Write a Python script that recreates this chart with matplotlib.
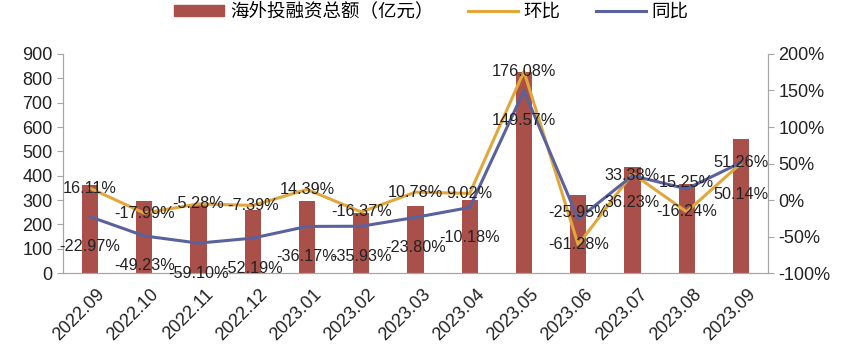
import numpy as np
import matplotlib.pyplot as plt
import matplotlib.transforms as mtransforms
from matplotlib.patches import Patch
from matplotlib.lines import Line2D

plt.rcParams['font.family'] = ['Liberation Sans', 'Noto Sans CJK SC', 'DejaVu Sans']
plt.rcParams['axes.unicode_minus'] = False

# 数据
months = ['2022.09', '2022.10', '2022.11', '2022.12', '2023.01', '2023.02', '2023.03',
          '2023.04', '2023.05', '2023.06', '2023.07', '2023.08', '2023.09']
total = [361, 296, 280, 259, 297, 248, 275, 300, 828, 321, 437, 366, 549]
mom = [16.11, -17.99, -5.28, -7.39, 14.39, -16.37, 10.78, 9.02, 176.08, -61.28, 36.23, -16.24, 50.14]
yoy = [-22.97, -49.23, -59.10, -52.19, -36.17, -35.93, -23.80, -10.18, 149.57, -25.95, 33.38, 15.25, 51.26]

# 标签偏移 (像素)
mom_dy = [0, 0, 0, 0, 0, 0, 0, 0, 0, 0, -29, 0, -31]
yoy_dy = [-30, -30, -30, -30, -30, -30, -30, -30, -30, 6, 0, 6, 0]

bar_color = '#A9504A'
mom_color = '#E2A73A'
yoy_color = '#5A629E'
grey = '#A6A6A6'
txt = '#222222'

fig = plt.figure(figsize=(8.49, 3.52), dpi=100)
ax = fig.add_axes([0.0742, 0.2244, 0.8304, 0.6222])
ax2 = ax.twinx()

x = np.arange(len(months))
ax.bar(x, total, width=0.3, color=bar_color, zorder=2)
ax.set_xlim(-0.5, len(months) - 0.5)
ax.set_ylim(0, 900)
ax.set_yticks(np.arange(0, 901, 100))

ax2.plot(x, mom, color=mom_color, lw=2.2, zorder=3)
ax2.plot(x, yoy, color=yoy_color, lw=2.2, zorder=4)
ax2.set_ylim(-100, 200)
ax2.set_yticks(np.arange(-100, 201, 50))
ax2.set_yticklabels([f'{v}%' for v in range(-100, 201, 50)])

for i in range(len(months)):
    ax2.annotate(f'{mom[i]:.2f}%', (x[i], mom[i]), xytext=(0, mom_dy[i]),
                 textcoords='offset pixels', ha='center', va='center',
                 fontsize=11.7, color=txt, zorder=6)
    ax2.annotate(f'{yoy[i]:.2f}%', (x[i], yoy[i]), xytext=(0, yoy_dy[i]),
                 textcoords='offset pixels', ha='center', va='center',
                 fontsize=11.7, color=txt, zorder=6)

for a in (ax, ax2):
    a.spines['top'].set_visible(False)
    for s in ('left', 'right', 'bottom'):
        a.spines[s].set_color(grey)
    a.tick_params(axis='y', colors=grey, labelcolor=txt, labelsize=13, length=4)
    a.tick_params(axis='x', length=0)

ax.set_xticks(x)
ax.set_xticklabels(months, rotation=45, ha='right', rotation_mode='anchor',
                   fontsize=13, color=txt)
ax.tick_params(axis='x', pad=9)
shift = mtransforms.ScaledTranslation(6 / 100, 0, fig.dpi_scale_trans)
for lab in ax.get_xticklabels():
    lab.set_transform(lab.get_transform() + shift)

handles = [Patch(color=bar_color), Line2D([], [], color=mom_color, lw=2.2),
           Line2D([], [], color=yoy_color, lw=2.2)]
labels = ['海外投融资总额（亿元）', '环比', '同比']
fig.legend(handles, labels, loc='center', bbox_to_anchor=(0.508, 0.966), ncol=3,
           frameon=False, fontsize=13.3, handlelength=2.7, handleheight=0.5,
           columnspacing=1.9, handletextpad=0.3, borderpad=0)

fig.savefig('out.png', dpi=100)
